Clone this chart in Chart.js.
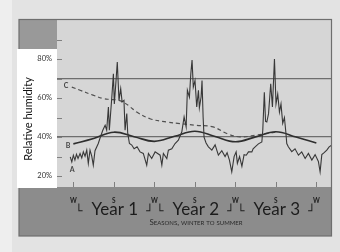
<!DOCTYPE html>
<html><head><meta charset="utf-8">
<script src="https://cdn.jsdelivr.net/npm/chart.js@4"></script>
<style>html,body{margin:0;padding:0;background:#e3e3e3;}canvas{display:block;}</style>
</head><body>
<canvas id="c" width="340" height="252"></canvas>
<script>
// ---- data (weeks from first winter; humidity in %) ----
const seasonWeeks = [0, 26, 52, 78, 104, 130, 156];
const seasonLabels = ['W', 'S', 'W', 'S', 'W', 'S', 'W'];
const yearLabels = ['Year 1', 'Year 2', 'Year 3'];
const yTickLabels = [20, 40, 60, 80];

const weeksA = [-2,-1,0,1,2,3,4.3,5.4,6.4,7.5,8.6,9.6,10.7,11.8,12.8,13.9,16.0,17.1,18.9,20.4,21.4,22.5,23.1,24.7,25.7,26.3,27.4,28.2,29.3,30.4,31.3,32.5,33.2,34.3,34.9,36.0,37.5,39.0,40.9,42.8,44.9,47.1,48.2,50.3,52.5,55.7,56.8,57.8,60.0,61.0,63.2,65.3,67.4,69.6,71.1,72.4,73.2,74.5,75.4,76.2,77.0,78.1,79.2,80.3,80.9,82.0,82.6,83.3,83.9,85.2,86.7,88.9,91.0,93.1,95.3,97.4,98.7,100.2,101.7,103.2,104.5,105.3,106.7,108.2,109.6,111.0,112.4,114.6,115.4,116.7,118.8,121.0,121.6,122.6,123.4,124.2,125.3,126.7,127.8,129.1,130.1,131.2,132.3,133.3,134.4,135.5,136.4,137.0,138.0,140.2,142.3,144.5,146.6,148.8,150.9,153.1,155.2,157.3,158.4,159.5,161.0,162.7,164.2,165.9];
const humidityA = [29.8,27.3,30.7,28.2,31.2,29.0,31.6,29.3,32.4,30.2,33.3,26.5,33.3,30.2,25.6,33,36.7,39.4,43.5,46,43.5,55.4,43.5,60.5,72.4,57,69,78.4,58.8,64.8,58,58.8,43.5,52,42,36.7,35.9,34,35,32.4,31.6,25.6,31.6,29,32.4,30.7,25.6,31.6,29,33.3,34,36.7,38.4,42.6,50.3,45.2,64,60.5,72.4,79.5,65.6,69,55.4,64,55,60.5,69,50.3,40,37,35,33.3,36,30.7,33,30,32,28.2,22.2,30,32.4,26.5,30,25,31,30.7,32.4,32.4,34,35,36.5,37.5,43.5,63,48,47.7,52,67.3,55.4,80,57,62,52.8,57,47,50,42.6,36.7,35,32.5,34,30.7,32.4,29,31.6,28.2,31,27.5,22.2,31,32,33.3,35,35.8];

const weeksB = [0,13,26,39,52,65,78,91,104,117,130,143,156];
const humidityB = [36.5,39.3,42.5,40.2,37.8,40.4,43,40.3,37.6,40.1,42.7,40,37];

const weeksC = [-1,4.3,12.6,19.3,23.6,28,32.1,36.4,40.7,49.2,60,68.5,79.2,89.7,98.5,107,117.7,124.2,130];
const humidityC = [65.6,64,61.5,59.7,59.3,59,57.9,55.5,52.8,49.4,47.7,46.9,46,45.2,41.8,40.1,41,41.8,42.5];

const curveLabels = ['A', 'B', 'C'];
const curveLabelWeeks = [-0.8, -3.4, -4.7];
const curveLabelValues = [23, 35.8, 66.5];

const pts = (xs, ys) => xs.map((x, i) => ({x: x, y: ys[i]}));

const decor = {
  id: 'decor',
  beforeDraw(chart) {
    const ctx = chart.ctx, a = chart.chartArea;
    ctx.save();
    ctx.fillStyle = '#e3e3e3'; ctx.fillRect(0, 0, 340, 252);
    ctx.fillStyle = '#eeeeee'; ctx.fillRect(0, 0, 12, 252);
    ctx.fillStyle = '#d6d6d6'; ctx.fillRect(a.left, a.top, a.right - a.left, a.bottom - a.top);
    ctx.fillStyle = '#8c8c8c'; ctx.fillRect(19, a.bottom, a.right - 19, 236 - a.bottom);
    ctx.fillStyle = '#999999'; ctx.fillRect(19, a.top, a.left - 19, 49 - a.top);
    ctx.strokeStyle = '#6e6e6e'; ctx.lineWidth = 1.2;
    ctx.strokeRect(19, a.top - 0.5, a.right - 19 + 0.5, 236 - a.top + 0.5);
    ctx.fillStyle = '#ffffff'; ctx.fillRect(17, 49, a.left - 17, 139);
    ctx.restore();
  },
  afterDatasetsDraw(chart) {
    const ctx = chart.ctx, xs = chart.scales.x, ys = chart.scales.y;
    ctx.save();
    ctx.fillStyle = '#444';
    ctx.font = 'bold 7px Lato';
    ctx.textAlign = 'center'; ctx.textBaseline = 'middle';
    curveLabels.forEach((t, i) => ctx.fillText(t, xs.getPixelForValue(curveLabelWeeks[i]), ys.getPixelForValue(curveLabelValues[i])));
    ctx.restore();
  },
  afterDraw(chart) {
    const ctx = chart.ctx, xs = chart.scales.x, ys = chart.scales.y, a = chart.chartArea;
    ctx.save();
    ctx.strokeStyle = '#808080'; ctx.lineWidth = 1;
    for (let v = 20; v <= 90; v += 10) {
      const y = Math.round(ys.getPixelForValue(v)) + 0.5;
      ctx.beginPath(); ctx.moveTo(a.left, y); ctx.lineTo(a.left + 5, y); ctx.stroke();
    }
    seasonWeeks.forEach(w => {
      const x = Math.round(xs.getPixelForValue(w)) + 0.5;
      ctx.beginPath(); ctx.moveTo(x, a.bottom - 5); ctx.lineTo(x, a.bottom); ctx.stroke();
    });
    ctx.fillStyle = '#111';
    ctx.font = '11px Lato';
    ctx.textAlign = 'center'; ctx.textBaseline = 'middle';
    ctx.translate(28, 119); ctx.rotate(-Math.PI / 2);
    ctx.fillText('Relative humidity', 0, 0);
    ctx.setTransform(1, 0, 0, 1, 0, 0);
    ctx.fillStyle = '#1c1c1c';
    ctx.textBaseline = 'alphabetic';
    yearLabels.forEach((t, i) => {
      const xc = xs.getPixelForValue(seasonWeeks[2 * i + 1]);
      ctx.font = '17px Lato';
      ctx.textAlign = 'center';
      ctx.fillText(t, xc + 1, 215);
      ctx.font = '12px "DejaVu Sans"';
      ctx.textAlign = 'left';
      ctx.fillText('\u2514', xs.getPixelForValue(seasonWeeks[2 * i]) + 2, 215);
      ctx.textAlign = 'right';
      ctx.fillText('\u2518', xs.getPixelForValue(seasonWeeks[2 * i + 2]) - 1, 215);
    });
    ctx.font = '8px Lato';
    ctx.fontVariantCaps = 'small-caps';
    ctx.textAlign = 'center';
    ctx.fillStyle = '#2a2a2a';
    ctx.fillText('Seasons, winter to summer', 196, 225);
    ctx.restore();
  }
};

new Chart(document.getElementById('c'), {
  type: 'line',
  data: {
    datasets: [
      {label: 'A', data: pts(weeksA, humidityA), borderColor: '#383838', borderWidth: 1.1, pointRadius: 0, tension: 0},
      {label: 'B', data: pts(weeksB, humidityB), borderColor: '#2e2e2e', borderWidth: 1.6, pointRadius: 0, tension: 0.4},
      {label: 'C', data: pts(weeksC, humidityC), borderColor: '#505050', borderWidth: 1.2, borderDash: [4, 3], pointRadius: 0, tension: 0.4}
    ]
  },
  options: {
    responsive: false, animation: false, devicePixelRatio: 1,
    layout: {padding: {left: 0, top: 20, right: 9, bottom: 0}},
    plugins: {legend: {display: false}, tooltip: {enabled: false}},
    scales: {
      x: {
        type: 'linear', min: -10.5, max: 165.4,
        afterBuildTicks: s => { s.ticks = seasonWeeks.map(v => ({value: v})); },
        afterFit: s => { s.height = 65; },
        grid: {display: false}, border: {display: false},
        ticks: {autoSkip: false, maxRotation: 0, padding: 2, color: '#1e1e1e', font: {family: 'Lato', size: 6.5, weight: 'bold'},
          callback: (v, i) => seasonLabels[i]}
      },
      y: {
        min: 14.4, max: 100,
        afterFit: s => { s.width = 57; },
        border: {display: false},
        grid: {drawTicks: false, lineWidth: 1.2, color: c => (c.tick && (c.tick.value === 70 || c.tick.value === 40)) ? '#6e6e6e' : 'rgba(0,0,0,0)'},
        ticks: {stepSize: 10, padding: 5, color: '#333', font: {family: 'Lato', size: 7.5},
          callback: v => yTickLabels.includes(v) ? v + '%' : ''}
      }
    }
  },
  plugins: [decor]
});
</script>
</body></html>
